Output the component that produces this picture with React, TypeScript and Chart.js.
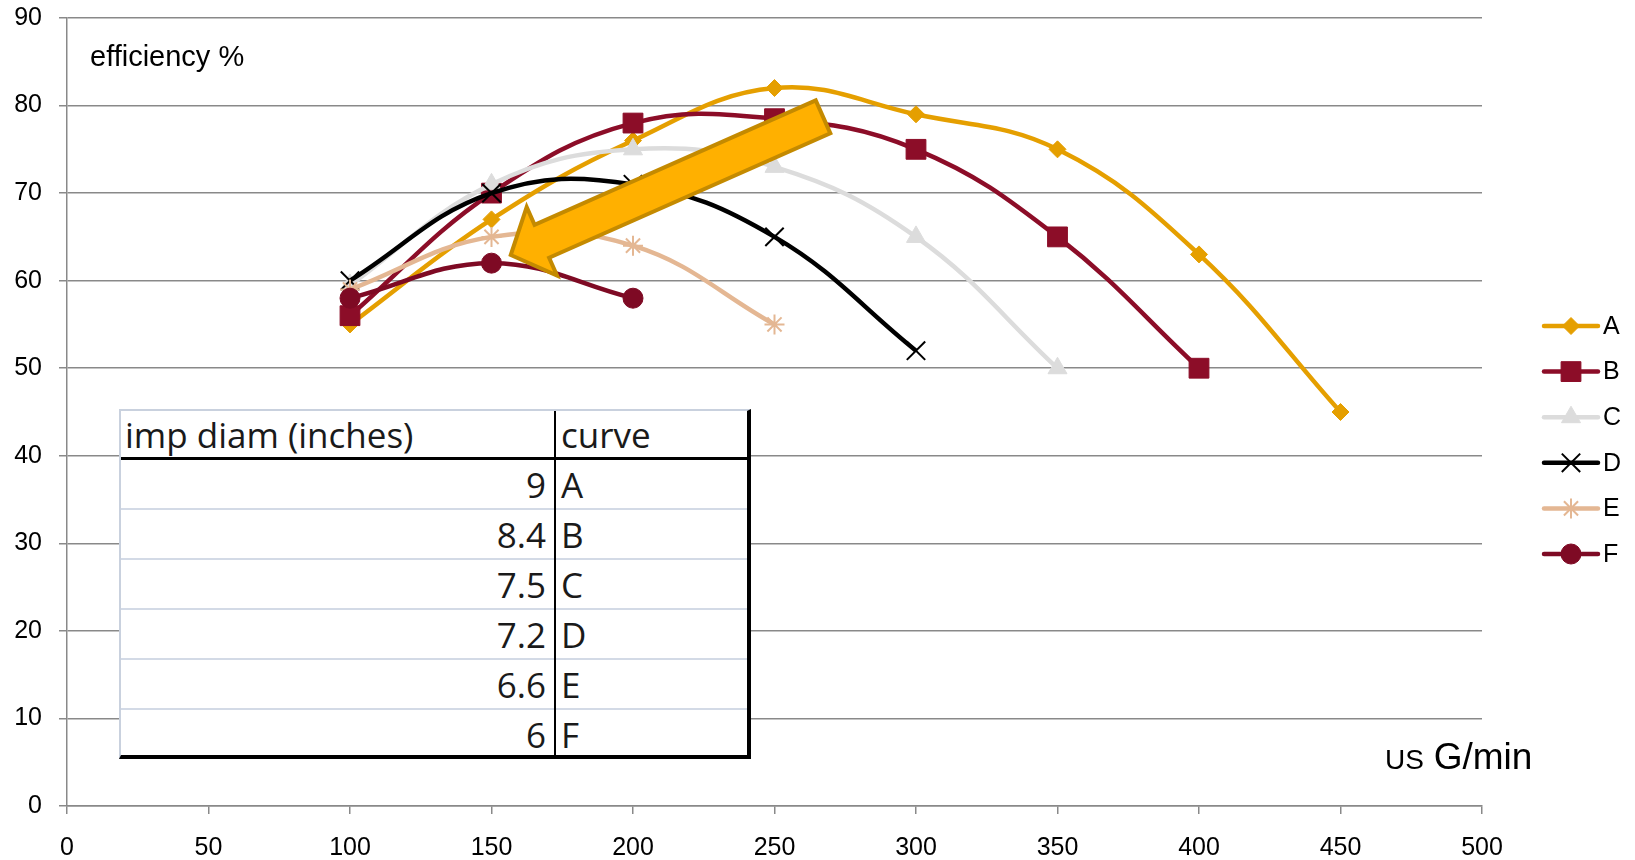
import React, { useEffect, useRef } from 'react';
import { Chart, registerables } from 'chart.js';
import { drawPoint } from 'chart.js/helpers';

Chart.register(...registerables);

// ---- data ----
const flowValues = [100, 150, 200, 250, 300, 350, 400, 450];
const effA = [55, 67, 76, 82, 79, 75, 63, 45];
const effB = [56, 70, 78, 78.5, 75, 65, 50];
const effC = [59.5, 71, 75, 73, 65, 50];
const effD = [60, 70, 71, 65, 52];
const effE = [59, 65, 64, 55];
const effF = [58, 62, 58];

const seriesNames = ['A', 'B', 'C', 'D', 'E', 'F'];
const seriesValues = [effA, effB, effC, effD, effE, effF];

const xTickMin = 0;
const xTickMax = 500;
const xTickStep = 50;
const yTickMin = 0;
const yTickMax = 90;
const yTickStep = 10;

const tableHeader = ['imp diam (inches)', 'curve'];
const impDiam = ['9', '8.4', '7.5', '7.2', '6.6', '6'];
const tableCurves = ['A', 'B', 'C', 'D', 'E', 'F'];

// arrow annotation (data coordinates of outer tail centre and outer tip)
const arrowTail = { x: 267.8, y: 78.8 };
const arrowTip = { x: 155.9, y: 62.8 };

// ---- styles ----
const seriesColors = ['#E59F00', '#8C0D28', '#DCDCDC', '#000000', '#E4B793', '#7E0A24'];
const seriesMarkers = ['rectRot', 'rect', 'triangle', 'crossRot', 'star', 'circle'];
const markerRadius = [8.5, 14, 11, 13, 10, 10];
const markerBorder = [1, 1, 1, 2, 2, 1];

const FONT = "'Liberation Sans', Arial, sans-serif";
const GRID = '#898989';

const arrowPlugin = {
  id: 'arrowAnno',
  afterDatasetsDraw(chart: any) {
    const { ctx, scales } = chart;
    const ox = scales.x.getPixelForValue(arrowTail.x);
    const oy = scales.y.getPixelForValue(arrowTail.y);
    const px = scales.x.getPixelForValue(arrowTip.x);
    const py = scales.y.getPixelForValue(arrowTip.y);
    const dx = px - ox;
    const dy = py - oy;
    const len = Math.hypot(dx, dy);
    const ux = dx / len;
    const uy = dy / len;
    const nx = -uy;
    const ny = ux;
    const lw = 4;
    const tx = ox + ux * (lw / 2);
    const ty = oy + uy * (lw / 2);
    const hx = px - ux * 2.8;
    const hy = py - uy * 2.8;
    const sh = 18;
    const hh = 37.5;
    const hl = 34;
    const bx = hx - ux * hl;
    const by = hy - uy * hl;
    ctx.save();
    ctx.beginPath();
    ctx.moveTo(tx + nx * sh, ty + ny * sh);
    ctx.lineTo(bx + nx * sh, by + ny * sh);
    ctx.lineTo(bx + nx * hh, by + ny * hh);
    ctx.lineTo(hx, hy);
    ctx.lineTo(bx - nx * hh, by - ny * hh);
    ctx.lineTo(bx - nx * sh, by - ny * sh);
    ctx.lineTo(tx - nx * sh, ty - ny * sh);
    ctx.closePath();
    ctx.fillStyle = '#FFB000';
    ctx.fill();
    ctx.lineWidth = lw;
    ctx.lineJoin = 'miter';
    ctx.miterLimit = 10;
    ctx.strokeStyle = '#C48A00';
    ctx.stroke();
    ctx.restore();
  },
};

const extrasPlugin = {
  id: 'extras',
  afterDraw(chart: any) {
    const { ctx, chartArea } = chart;
    ctx.save();
    // y axis caption
    ctx.fillStyle = '#000';
    ctx.textBaseline = 'alphabetic';
    ctx.textAlign = 'left';
    ctx.font = `29px ${FONT}`;
    ctx.fillText('efficiency %', chartArea.left + 23, chartArea.top + 48);
    // x axis caption
    ctx.font = `28px ${FONT}`;
    const usX = chartArea.right - 97;
    const baseY = chartArea.bottom - 37;
    ctx.fillText('US', usX, baseY);
    const usW = ctx.measureText('US ').width;
    ctx.font = `37px ${FONT}`;
    ctx.fillText('G/min', usX + usW + 2, baseY);

    // legend
    const lx0 = chartArea.right + 62;
    const lx1 = lx0 + 54;
    const ly0 = 326;
    const lstep = 45.6;
    chart.data.datasets.forEach((ds: any, i: number) => {
      const y = ly0 + i * lstep;
      ctx.beginPath();
      ctx.lineCap = 'round';
      ctx.lineWidth = 4.5;
      ctx.strokeStyle = ds.borderColor;
      ctx.moveTo(lx0, y);
      ctx.lineTo(lx1, y);
      ctx.stroke();
      ctx.fillStyle = ds.pointBackgroundColor;
      ctx.strokeStyle = ds.pointBorderColor;
      ctx.lineWidth = ds.pointBorderWidth;
      ctx.lineCap = 'butt';
      drawPoint(ctx, { pointStyle: ds.pointStyle, rotation: 0, radius: ds.pointRadius, borderWidth: ds.pointBorderWidth }, (lx0 + lx1) / 2, y);
      ctx.fillStyle = '#000';
      ctx.font = `25px ${FONT}`;
      ctx.textBaseline = 'middle';
      ctx.textAlign = 'left';
      ctx.fillText(seriesNames[i], lx1 + 5, y + 1);
    });
    ctx.restore();
  },
};

export default function App() {
  const canvasRef = useRef<HTMLCanvasElement | null>(null);

  useEffect(() => {
    const canvas = canvasRef.current;
    if (!canvas) return;
    const datasets = seriesValues.map((vals, i) => ({
      label: seriesNames[i],
      data: vals.map((v, k) => ({ x: flowValues[k], y: v })),
      borderColor: seriesColors[i],
      backgroundColor: seriesColors[i],
      borderWidth: 4.5,
      tension: 0.4,
      fill: false,
      pointStyle: seriesMarkers[i],
      pointRadius: markerRadius[i],
      pointBorderWidth: markerBorder[i],
      pointBackgroundColor: seriesColors[i],
      pointBorderColor: seriesColors[i],
      order: seriesValues.length - i,
    }));

    const chart = new Chart(canvas, {
      type: 'line',
      data: { datasets },
      options: {
        responsive: false,
        animation: false,
        layout: { padding: { top: 18, right: 153, left: 0, bottom: 0 } },
        plugins: {
          legend: { display: false },
          tooltip: { enabled: false },
        },
        scales: {
          x: {
            type: 'linear',
            min: xTickMin,
            max: xTickMax,
            afterFit: (s: any) => {
              s.height = 54;
              s.paddingLeft = 0;
              s.paddingRight = 0;
            },
            ticks: {
              stepSize: xTickStep,
              font: { family: FONT, size: 25 },
              color: '#000',
              padding: 19,
              maxRotation: 0,
              autoSkip: false,
            },
            grid: {
              drawOnChartArea: false,
              drawTicks: true,
              tickLength: 8,
              color: GRID,
              lineWidth: 1.5,
            },
            border: { color: GRID, width: 1.5 },
          },
          y: {
            min: yTickMin,
            max: yTickMax,
            afterFit: (s: any) => {
              s.width = 67;
              s.paddingTop = 0;
              s.paddingBottom = 0;
            },
            ticks: {
              stepSize: yTickStep,
              font: { family: FONT, size: 25 },
              color: '#000',
              padding: 17,
            },
            grid: {
              color: GRID,
              lineWidth: 1.5,
              tickLength: 8,
            },
            border: { color: GRID, width: 1.5 },
          },
        },
      } as any,
      plugins: [arrowPlugin, extrasPlugin],
    });
    return () => chart.destroy();
  }, []);

  const tableFont = "'Open Sans', 'Noto Sans', sans-serif";
  const rowTop = (k: number) => 48 + 50 * k;

  return (
    <div style={{ position: 'fixed', left: 0, top: 0, width: 1635, height: 860, background: '#fff' }}>
      <canvas ref={canvasRef} width={1635} height={860} style={{ width: 1635, height: 860, display: 'block' }} />
      <div
        style={{
          position: 'absolute',
          left: 119,
          top: 409,
          width: 632,
          height: 350,
          background: '#fff',
          boxSizing: 'border-box',
          borderLeft: '2px solid #C9D1DE',
          borderTop: '2px solid #C9D1DE',
          borderRight: '4px solid #000',
          borderBottom: '4px solid #000',
          fontFamily: tableFont,
          fontSize: 35,
          color: '#1a1a1a',
        }}
      >
        {impDiam.map((_, k) =>
          k === 0 ? null : (
            <div
              key={'l' + k}
              style={{ position: 'absolute', left: 0, right: 0, top: rowTop(k) - 1, height: 2, background: '#D3DAE6' }}
            />
          )
        )}
        <div style={{ position: 'absolute', left: 0, right: 0, top: 46, height: 2.5, background: '#000' }} />
        <div style={{ position: 'absolute', left: 433, top: 0, bottom: 0, width: 2, background: '#000' }} />
        <div style={{ position: 'absolute', left: 4, top: 0, height: 46, display: 'flex', alignItems: 'center', whiteSpace: 'nowrap' }}>
          {tableHeader[0]}
        </div>
        <div style={{ position: 'absolute', left: 440, top: 0, height: 46, display: 'flex', alignItems: 'center', whiteSpace: 'nowrap' }}>
          {tableHeader[1]}
        </div>
        {impDiam.map((d, k) => (
          <React.Fragment key={'r' + k}>
            <div
              style={{
                position: 'absolute',
                right: 632 - 2 - 4 - 425,
                top: rowTop(k),
                height: 50,
                display: 'flex',
                alignItems: 'center',
                whiteSpace: 'nowrap',
              }}
            >
              {d}
            </div>
            <div
              style={{
                position: 'absolute',
                left: 440,
                top: rowTop(k),
                height: 50,
                display: 'flex',
                alignItems: 'center',
                whiteSpace: 'nowrap',
              }}
            >
              {tableCurves[k]}
            </div>
          </React.Fragment>
        ))}
      </div>
    </div>
  );
}
